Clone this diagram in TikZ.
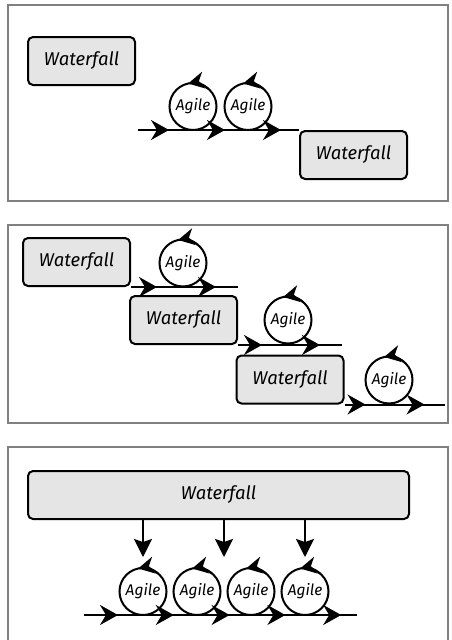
\documentclass[tikz,border=0pt]{standalone}
\usepackage{fontspec}
\setsansfont{Fira Sans}
\usetikzlibrary{shapes,arrows.meta,decorations.markings,positioning,calc}

\begin{document}
\begin{tikzpicture}[x=1pt, y=1pt, line width=2pt]
        \tikzstyle{phase} = [rectangle, draw, fill=black!10, rounded corners=5pt, minimum width=107pt, minimum height=48pt, inner sep=0pt, font=\sffamily\itshape\fontsize{18.5}{20}\selectfont]
        \tikzstyle{sprint} = [circle, draw, fill=white, minimum size=47pt, inner sep=0pt, outer sep=0pt, font=\sffamily\itshape\fontsize{15.5}{17}\selectfont]
        \tikzstyle{panel} = [draw=black!50, line width=1.8pt]
        \tikzstyle{loop} = [-{Stealth[length=16pt, width=17pt, inset=5pt]}]
        \tikzstyle{drop} = [draw, -{Stealth[length=18pt, width=18pt, inset=3pt]}]
        \tikzstyle{flow} = [draw, postaction={decorate, decoration={markings, mark=between positions #1 with {\arrow{Stealth[length=18pt, width=20pt, inset=6pt]}}}}]

    \path [use as bounding box, clip] (0,0) rectangle (452,-640);

    % top: waterfall, two sprints, waterfall
    \draw [panel] (8,-5) rectangle (448,-201);
    \node [phase] (wf_start) at (81.5,-61) {Waterfall};
    \node [phase] (wf_end) at (353.5,-155) {Waterfall};
    \node [sprint] (sp_a) at (193,-106.5) {Agile};
    \node [sprint, right=8pt of sp_a] (sp_b) {Agile};
    \coordinate (flow_in) at (138,-130);
    \path [flow={31pt and 150pt step 56pt}] (flow_in) -- (flow_in -| wf_end.west);
    \draw [loop] (sp_a.50) arc[start angle=50, end angle=102, radius=23.5pt];
    \draw [loop] (sp_b.50) arc[start angle=50, end angle=102, radius=23.5pt];

    % middle: staircase of waterfalls with a sprint after each
    \draw [panel] (8,-225) rectangle (448,-423);
    \node [phase] (wf_one) at (76.5,-262) {Waterfall};
    \node [phase] (wf_two) at (183.5,-320) {Waterfall};
    \node [phase] (wf_three) at (290,-379.5) {Waterfall};
    \node [sprint] (sp_one) at (183,-263) {Agile};
    \node [sprint] (sp_two) at (288,-320) {Agile};
    \node [sprint] (sp_three) at (389,-380) {Agile};
    \path [flow={26pt and 100pt step 59pt}] (wf_one.south east) -- ++(107,0) coordinate (out_one);
    \path [flow={24pt and 100pt step 58pt}] (wf_two.south east) -- ++(104,0) coordinate (out_two);
    \path [flow={21pt and 100pt step 59pt}] (wf_three.south east) -- ++(100,0) coordinate (out_three);
    \foreach \s in {sp_one, sp_two, sp_three}
        \draw [loop] (\s.50) arc[start angle=50, end angle=102, radius=23.5pt];

    % bottom: one waterfall feeding a row of sprints
    \draw [panel] (8,-447) rectangle (448,-660);
    \node [phase, minimum width=381pt] (wf_main) at (218.5,-495) {Waterfall};
    \node [sprint] (sp_1) at (143,-591.5) {Agile};
    \node [sprint, right=7pt of sp_1] (sp_2) {Agile};
    \node [sprint, right=7pt of sp_2] (sp_3) {Agile};
    \node [sprint, right=7pt of sp_3] (sp_4) {Agile};
    \coordinate (row_in) at (84,-615);
    \coordinate (row_out) at (357,-615);
    \coordinate (mid_drop) at ($(sp_2)!.5!(sp_3)$);
    \path [flow={34pt and 270pt step 55.8pt}] (row_in) -- (row_out);
    \foreach \s in {sp_1, sp_2, sp_3, sp_4}
        \draw [loop] (\s.50) arc[start angle=50, end angle=102, radius=23.5pt];
    \draw [drop] (sp_1 |- wf_main.south) -- ++(0,-37);
    \draw [drop] (mid_drop |- wf_main.south) -- ++(0,-37);
    \draw [drop] (sp_4 |- wf_main.south) -- ++(0,-37);

\end{tikzpicture}
\end{document}
